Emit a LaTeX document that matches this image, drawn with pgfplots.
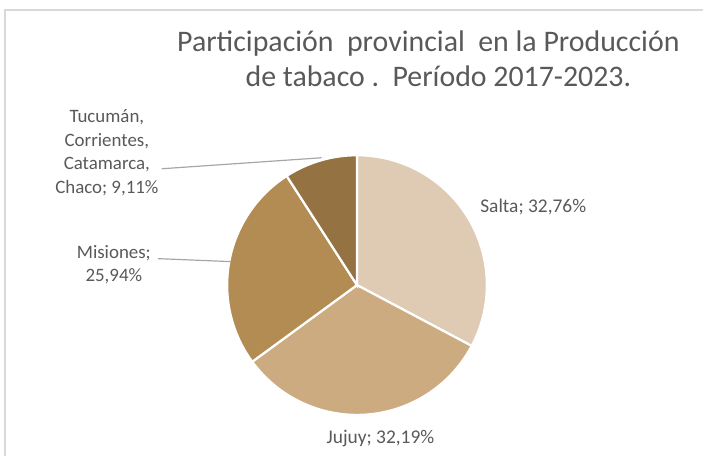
\documentclass[border=0pt]{standalone}
\usepackage{fontspec}
\setmainfont{Carlito}
\usepackage{pgfplots}
\usepackage{pgfplotstable}
\pgfplotsset{compat=1.18}
\definecolor{cSalta}{HTML}{DFCAB3}
\definecolor{cJujuy}{HTML}{CDAB80}
\definecolor{cMis}{HTML}{B38C53}
\definecolor{cOtr}{HTML}{957242}
\definecolor{txt}{HTML}{595959}
\definecolor{lead}{HTML}{A6A6A6}
\definecolor{frame}{HTML}{D9D9D9}
% shares (%)
\pgfplotstableread{
prov pct
Salta 32.76
Jujuy 32.19
Misiones 25.94
Otras 9.11
}\piedata
\pgfplotstablegetelem{0}{pct}\of\piedata\let\pA\pgfplotsretval
\pgfplotstablegetelem{1}{pct}\of\piedata\let\pB\pgfplotsretval
\pgfplotstablegetelem{2}{pct}\of\piedata\let\pC\pgfplotsretval
\pgfplotstablegetelem{3}{pct}\of\piedata\let\pD\pgfplotsretval
\pgfmathsetmacro\aA{90}
\pgfmathsetmacro\aB{\aA-3.6*\pA}
\pgfmathsetmacro\aC{\aB-3.6*\pB}
\pgfmathsetmacro\aD{\aC-3.6*\pC}
\pgfmathsetmacro\aE{\aD-3.6*\pD}
\def\cx{357.5}\def\cy{171.5}\def\R{130}
\begin{document}
\begin{tikzpicture}
\begin{axis}[
  at={(0,0)}, anchor=south west,
  x=1bp, y=1bp, scale only axis,
  xmin=0, xmax=704, ymin=0, ymax=457,
  hide axis, clip=false,
]
\path (axis cs:0,0) rectangle (axis cs:704,457);
\draw[frame, line width=2bp] (axis cs:5,0) -- (axis cs:5,447) -- (axis cs:704,447);
\pgfplotsset{slice/.style={draw=white, line width=2.2bp, samples=90, variable=\t}}
\addplot[slice, fill=cSalta, domain=\aB:\aA] ({\cx+\R*cos(t)},{\cy+\R*sin(t)}) -- (axis cs:\cx,\cy) -- cycle;
\addplot[slice, fill=cJujuy, domain=\aC:\aB] ({\cx+\R*cos(t)},{\cy+\R*sin(t)}) -- (axis cs:\cx,\cy) -- cycle;
\addplot[slice, fill=cMis, domain=\aD:\aC] ({\cx+\R*cos(t)},{\cy+\R*sin(t)}) -- (axis cs:\cx,\cy) -- cycle;
\addplot[slice, fill=cOtr, domain=\aE:\aD] ({\cx+\R*cos(t)},{\cy+\R*sin(t)}) -- (axis cs:\cx,\cy) -- cycle;
% leader lines
\draw[lead, line width=1.2bp] (axis cs:162,288) -- (axis cs:322,299);
\draw[lead, line width=1.2bp] (axis cs:158,198) -- (axis cs:231,195);
% title
\node[txt, font=\fontsize{30}{35}\selectfont, anchor=base] at (axis cs:429,405) {Participación\ \ provincial\ \ en la Producción};
\node[txt, font=\fontsize{30}{35}\selectfont, anchor=base] at (axis cs:439,370) {de tabaco .\ \ Período 2017-2023.};
% labels
\node[txt, font=\fontsize{19}{23.7}\selectfont, align=center] at (axis cs:107,304) {Tucumán,\\Corrientes,\\Catamarca,\\Chaco; 9,11\%};
\node[txt, font=\fontsize{19}{23.7}\selectfont, align=center] at (axis cs:114,192) {Misiones;\\25,94\%};
\node[txt, font=\fontsize{19.5}{23.7}\selectfont] at (axis cs:534,250) {Salta; 32,76\%};
\node[txt, font=\fontsize{19.5}{23.7}\selectfont] at (axis cs:381,18) {Jujuy; 32,19\%};
\end{axis}
\end{tikzpicture}
\end{document}
